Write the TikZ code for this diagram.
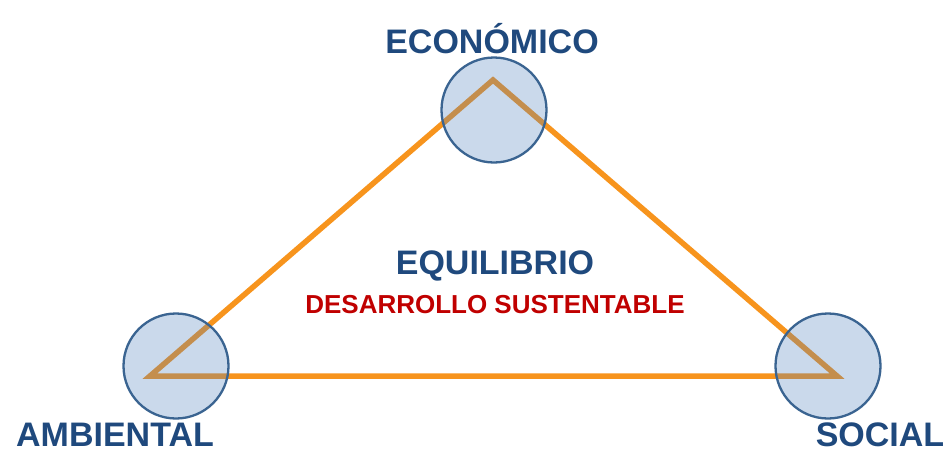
\documentclass[tikz,border=0pt]{standalone}
\usepackage{fontspec}
\setmainfont{Liberation Sans}
\definecolor{txtblue}{HTML}{1F497D}
\definecolor{txtred}{HTML}{C00000}
\definecolor{triorange}{HTML}{F7941D}
\definecolor{circfill}{HTML}{4F81BD}
\definecolor{circline}{HTML}{3A6491}
\begin{document}
\begin{tikzpicture}[x=1pt,y=-1pt,
  pillar/.style={circle,minimum size=105pt,inner sep=0pt,draw=circline,line width=2.3pt,fill=circfill,fill opacity=0.3,draw opacity=1},
  bigtxt/.style={anchor=base,text=txtblue,font=\fontsize{34}{40}\selectfont\bfseries,inner sep=0pt,text depth=0pt},
  subtxt/.style={anchor=base,text=txtred,font=\fontsize{26}{30}\selectfont\bfseries,inner sep=0pt},
  edge/.style={draw=triorange,line width=5.5pt,line join=miter}]
\useasboundingbox (0,0) rectangle (948,453);
\coordinate (ve) at (493,80);
\coordinate (va) at (150,376);
\coordinate (vs) at (837,376);
\draw[edge] (ve) -- (vs) -- (va) -- cycle;
\node[pillar] (ce) at (494,110) {};
\node[pillar] (ca) at (176,366) {};
\node[pillar] (cs) at (828,366) {};
\node[bigtxt] (te) at (492,53) {ECONÓMICO};
\node[bigtxt] (ta) at (115,446) {AMBIENTAL};
\node[bigtxt] (ts) at (880,446) {SOCIAL};
\node[bigtxt] (eq) at (495,274) {EQUILIBRIO};
\node[subtxt] (ds) at (495,313) {DESARROLLO SUSTENTABLE};
\end{tikzpicture}
\end{document}
